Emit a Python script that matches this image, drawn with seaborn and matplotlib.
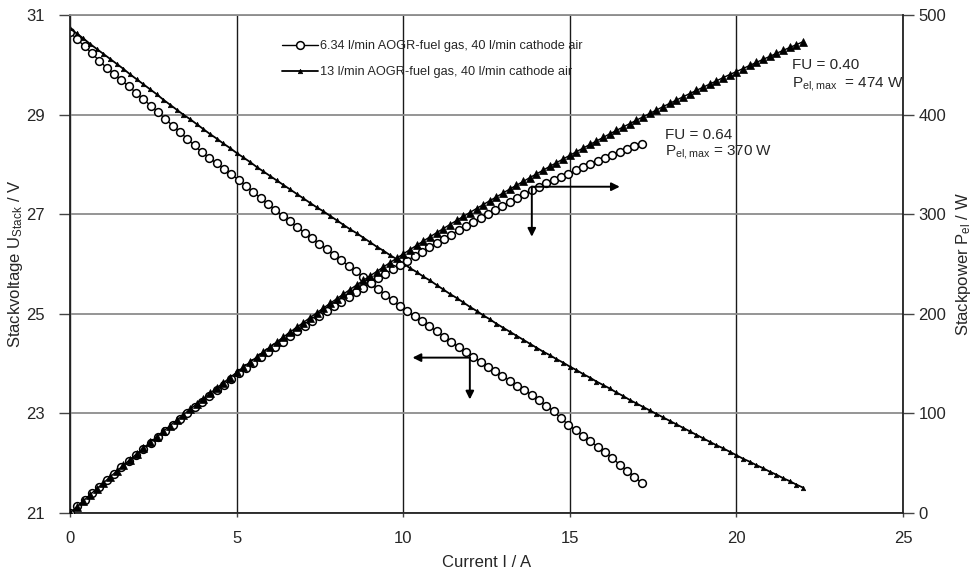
import matplotlib
matplotlib.use("Agg")
import matplotlib.pyplot as plt
import seaborn as sns
import pandas as pd
from matplotlib.lines import Line2D

# ---- series A: 6.34 l/min AOGR-fuel gas (open circles) ----
current_a = [0.00, 0.22, 0.44, 0.66, 0.88, 1.10, 1.32, 1.54, 1.76, 1.98,
             2.20, 2.42, 2.64, 2.86, 3.08, 3.30, 3.52, 3.74, 3.96, 4.18,
             4.40, 4.62, 4.84, 5.06, 5.28, 5.50, 5.72, 5.94, 6.16, 6.38,
             6.60, 6.82, 7.04, 7.26, 7.48, 7.70, 7.92, 8.14, 8.36, 8.58,
             8.80, 9.02, 9.24, 9.46, 9.68, 9.90, 10.12, 10.34, 10.56, 10.78,
             11.00, 11.22, 11.44, 11.66, 11.88, 12.10, 12.32, 12.54, 12.76, 12.98,
             13.20, 13.42, 13.64, 13.86, 14.08, 14.30, 14.52, 14.74, 14.96, 15.18,
             15.40, 15.62, 15.84, 16.06, 16.28, 16.50, 16.72, 16.94, 17.16]
voltage_a = [30.65, 30.51, 30.37, 30.23, 30.08, 29.94, 29.82, 29.69, 29.57, 29.44,
             29.31, 29.18, 29.05, 28.91, 28.78, 28.65, 28.51, 28.38, 28.24, 28.13,
             28.02, 27.91, 27.80, 27.69, 27.57, 27.45, 27.32, 27.20, 27.09, 26.97,
             26.86, 26.74, 26.63, 26.52, 26.41, 26.30, 26.19, 26.08, 25.96, 25.85,
             25.73, 25.61, 25.50, 25.38, 25.27, 25.15, 25.05, 24.95, 24.85, 24.75,
             24.65, 24.54, 24.44, 24.33, 24.23, 24.13, 24.04, 23.94, 23.85, 23.76,
             23.66, 23.56, 23.47, 23.37, 23.26, 23.15, 23.04, 22.90, 22.77, 22.66,
             22.55, 22.44, 22.33, 22.22, 22.10, 21.97, 21.85, 21.73, 21.60]
power_a = [0.0, 6.7, 13.4, 20.0, 26.5, 32.9, 39.4, 45.7, 52.0, 58.3,
           64.5, 70.6, 76.7, 82.7, 88.6, 94.5, 100.4, 106.1, 111.8, 117.6,
           123.3, 128.9, 134.6, 140.1, 145.6, 151.0, 156.3, 161.6, 166.9, 172.1,
           177.3, 182.4, 187.5, 192.5, 197.5, 202.5, 207.4, 212.3, 217.0, 221.8,
           226.4, 231.0, 235.6, 240.1, 244.6, 249.0, 253.5, 258.0, 262.4, 266.8,
           271.2, 275.3, 279.6, 283.7, 287.8, 292.0, 296.2, 300.2, 304.3, 308.4,
           312.3, 316.2, 320.1, 323.9, 327.5, 331.0, 334.5, 337.5, 340.6, 344.0,
           347.3, 350.5, 353.7, 356.8, 359.8, 362.5, 365.3, 368.1, 370.7]

# ---- series B: 13 l/min AOGR-fuel gas (filled triangles) ----
current_b = [0.0, 0.2, 0.4, 0.6, 0.8, 1.0, 1.2, 1.4, 1.6, 1.8,
             2.0, 2.2, 2.4, 2.6, 2.8, 3.0, 3.2, 3.4, 3.6, 3.8,
             4.0, 4.2, 4.4, 4.6, 4.8, 5.0, 5.2, 5.4, 5.6, 5.8,
             6.0, 6.2, 6.4, 6.6, 6.8, 7.0, 7.2, 7.4, 7.6, 7.8,
             8.0, 8.2, 8.4, 8.6, 8.8, 9.0, 9.2, 9.4, 9.6, 9.8,
             10.0, 10.2, 10.4, 10.6, 10.8, 11.0, 11.2, 11.4, 11.6, 11.8,
             12.0, 12.2, 12.4, 12.6, 12.8, 13.0, 13.2, 13.4, 13.6, 13.8,
             14.0, 14.2, 14.4, 14.6, 14.8, 15.0, 15.2, 15.4, 15.6, 15.8,
             16.0, 16.2, 16.4, 16.6, 16.8, 17.0, 17.2, 17.4, 17.6, 17.8,
             18.0, 18.2, 18.4, 18.6, 18.8, 19.0, 19.2, 19.4, 19.6, 19.8,
             20.0, 20.2, 20.4, 20.6, 20.8, 21.0, 21.2, 21.4, 21.6, 21.8, 22.0]
voltage_b = [30.73, 30.63, 30.53, 30.42, 30.32, 30.22, 30.12, 30.02, 29.92, 29.81,
             29.71, 29.61, 29.51, 29.41, 29.30, 29.20, 29.10, 29.00, 28.91, 28.81,
             28.71, 28.61, 28.52, 28.42, 28.33, 28.23, 28.14, 28.05, 27.95, 27.86,
             27.77, 27.68, 27.59, 27.50, 27.41, 27.32, 27.23, 27.14, 27.06, 26.97,
             26.88, 26.79, 26.70, 26.62, 26.53, 26.44, 26.35, 26.27, 26.18, 26.10,
             26.01, 25.92, 25.84, 25.75, 25.67, 25.58, 25.49, 25.40, 25.32, 25.23,
             25.14, 25.06, 24.97, 24.89, 24.80, 24.72, 24.64, 24.56, 24.48, 24.40,
             24.32, 24.24, 24.17, 24.09, 24.02, 23.94, 23.87, 23.79, 23.72, 23.64,
             23.57, 23.50, 23.42, 23.35, 23.27, 23.20, 23.13, 23.06, 22.99, 22.92,
             22.85, 22.78, 22.71, 22.64, 22.57, 22.50, 22.43, 22.36, 22.30, 22.23,
             22.16, 22.09, 22.03, 21.96, 21.90, 21.83, 21.77, 21.70, 21.64, 21.57, 21.51]
power_b = [0.0, 6.1, 12.2, 18.3, 24.3, 30.2, 36.1, 42.0, 47.9, 53.7,
           59.4, 65.1, 70.8, 76.5, 82.0, 87.6, 93.1, 98.6, 104.1, 109.5,
           114.8, 120.2, 125.5, 130.7, 136.0, 141.2, 146.3, 151.5, 156.5, 161.6,
           166.6, 171.6, 176.6, 181.5, 186.4, 191.2, 196.1, 200.8, 205.7, 210.4,
           215.0, 219.7, 224.3, 228.9, 233.5, 238.0, 242.4, 246.9, 251.3, 255.8,
           260.1, 264.4, 268.7, 273.0, 277.2, 281.4, 285.5, 289.6, 293.7, 297.7,
           301.7, 305.7, 309.6, 313.6, 317.4, 321.4, 325.3, 329.1, 332.9, 336.7,
           340.5, 344.2, 348.1, 351.7, 355.5, 359.1, 362.8, 366.4, 370.0, 373.5,
           377.1, 380.7, 384.1, 387.6, 390.9, 394.4, 397.8, 401.2, 404.6, 408.0,
           411.3, 414.6, 417.9, 421.1, 424.3, 427.5, 430.7, 433.8, 437.1, 440.2,
           443.2, 446.2, 449.4, 452.4, 455.5, 458.4, 461.5, 464.4, 467.4, 470.2, 473.2]

label_a = "6.34 l/min AOGR-fuel gas, 40 l/min cathode air"
label_b = "13 l/min AOGR-fuel gas, 40 l/min cathode air"
x_ticks = [0, 5, 10, 15, 20, 25]
v_ticks = [21, 23, 25, 27, 29, 31]
p_ticks = [0, 100, 200, 300, 400, 500]

sns.set_style("white")
plt.rcParams['font.family'] = ['Liberation Sans', 'DejaVu Sans']
plt.rcParams['mathtext.fontset'] = 'custom'
plt.rcParams['mathtext.rm'] = 'Liberation Sans'
plt.rcParams['mathtext.it'] = 'Liberation Sans:italic'
plt.rcParams['mathtext.bf'] = 'Liberation Sans:bold'

W, H = 972, 577
fig = plt.figure(figsize=(W / 100, H / 100), dpi=100)
ax = fig.add_axes([70 / W, 1 - 513 / H, (903 - 70) / W, (513 - 15) / H])
ax2 = ax.twinx()

df_a = pd.DataFrame({"I": current_a, "U": voltage_a, "P": power_a})
df_b = pd.DataFrame({"I": current_b, "U": voltage_b, "P": power_b})

circ = dict(color='black', linewidth=1.0, marker='o', markersize=5.6,
            markerfacecolor='white', markeredgecolor='black', markeredgewidth=1.1)
tri_small = dict(color='black', linewidth=1.3, marker='^', markersize=3.2,
                 markerfacecolor='black', markeredgecolor='black', markeredgewidth=0.5)
tri_big = dict(color='black', linewidth=1.0, marker='^', markersize=6,
               markerfacecolor='black', markeredgecolor='black', markeredgewidth=0.5)

sns.lineplot(data=df_a, x="I", y="U", ax=ax, sort=False, estimator=None, **circ)
sns.lineplot(data=df_b, x="I", y="U", ax=ax, sort=False, estimator=None, **tri_small)
sns.lineplot(data=df_a, x="I", y="P", ax=ax2, sort=False, estimator=None, **circ)
sns.lineplot(data=df_b, x="I", y="P", ax=ax2, sort=False, estimator=None, **tri_big)

ax.set_xlim(0, 25)
ax.set_ylim(21, 31)
ax2.set_ylim(0, 500)
ax.set_xticks(x_ticks)
ax.set_yticks(v_ticks)
ax2.set_yticks(p_ticks)
ax.set_xticklabels([str(t) for t in x_ticks])
ax.set_yticklabels([str(t) for t in v_ticks])
ax2.set_yticklabels([str(t) for t in p_ticks])

ax.set_axisbelow(True)
ax.xaxis.grid(True, color='#1a1a1a', linewidth=1.0)
ax.yaxis.grid(True, color='#8c8c8c', linewidth=1.3)
ax2.grid(False)

for s in ['left', 'bottom']:
    ax.spines[s].set_color('#222222')
    ax.spines[s].set_linewidth(1.3)
ax.spines['top'].set_color('#8c8c8c')
ax.spines['top'].set_linewidth(1.3)
ax.spines['right'].set_visible(False)
for s in ['left', 'bottom', 'top']:
    ax2.spines[s].set_visible(False)
ax2.spines['right'].set_color('#222222')
ax2.spines['right'].set_linewidth(1.3)

ax.tick_params(axis='y', direction='out', length=8, width=1.0, color='#444444',
               labelsize=12, pad=10, left=True)
ax.tick_params(axis='x', direction='out', length=3, width=1.0, color='#444444',
               labelsize=12, pad=10, bottom=True)
ax2.tick_params(axis='y', direction='out', length=8, width=1.0, color='#444444',
                labelsize=12, pad=3, right=True)

ax.set_xlabel("Current I / A", fontsize=12)
ax.xaxis.set_label_coords(0.5, -(555 - 513) / 498)
ax.xaxis.label.set_va('top')
ax.set_ylabel(r"Stackvoltage U$_{\mathrm{Stack}}$ / V", fontsize=12)
ax.yaxis.set_label_coords((25 - 70) / 833, 0.5)
ax2.set_ylabel(r"Stackpower P$_{\mathrm{el}}$ / W", fontsize=12)
ax2.yaxis.set_label_coords((954 - 70) / 833, 0.5)

# arrows indicating axes
arr = dict(arrowstyle='-|>', color='black', lw=1.4, mutation_scale=12,
           shrinkA=0, shrinkB=0)
ax.annotate("", xy=(10.28, 24.12), xytext=(12.0, 24.12), arrowprops=arr)
ax.annotate("", xy=(12.0, 23.28), xytext=(12.0, 24.12), arrowprops=arr)
ax2.annotate("", xy=(16.5, 327.6), xytext=(13.86, 327.6), arrowprops=arr)
ax2.annotate("", xy=(13.86, 277.4), xytext=(13.86, 327.6), arrowprops=arr)

# annotations
ax2.text(21.66, 449.8, "FU = 0.40", fontsize=11, va='center', ha='left')
ax2.text(21.66, 430.7, r"P$_{\mathrm{el,max}}$  = 474 W", fontsize=11, va='center', ha='left')
ax2.text(17.86, 379.5, "FU = 0.64", fontsize=11, va='center', ha='left')
ax2.text(17.86, 362.7, r"P$_{\mathrm{el,max}}$ = 370 W", fontsize=11, va='center', ha='left')

handles = [Line2D([], [], **circ), Line2D([], [], **tri_small)]
ax2.legend(handles, [label_a, label_b], loc='upper left',
           bbox_to_anchor=((282 - 70) / 833, 1 - (40 - 15) / 498),
           frameon=False, fontsize=9.2, handlelength=2.8, handletextpad=0.2,
           labelspacing=1.1, borderpad=0, borderaxespad=0, numpoints=1)

fig.savefig("out.png", dpi=100)
